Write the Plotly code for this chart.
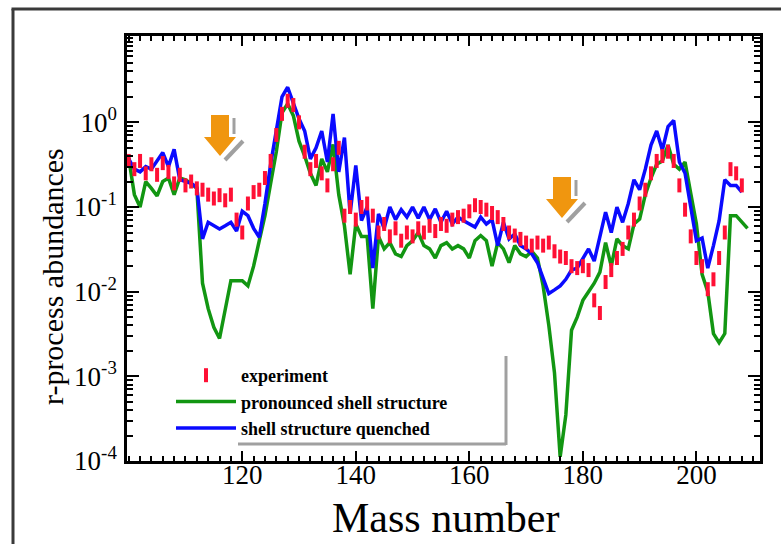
import plotly.graph_objects as go

# ---------------- data ----------------
mass_exp = list(range(100, 209))
exp_abund = [
    0.35, 0.28, 0.35, 0.25, 0.32, 0.24, 0.33, 0.26, 0.19, 0.24,   # 100-109
    0.18, 0.20, 0.166, 0.16, 0.14, 0.126, 0.138, 0.12, 0.14, 0.071,  # 110-119
    0.050, 0.11, 0.15, 0.16, 0.22, 0.35, 0.71, 1.26, 1.8, 1.6,    # 120-129
    1.0, 0.45, 0.28, 0.35, 0.25, 0.18, 0.32, 0.50, 0.079, 0.10,   # 130-139
    0.071, 0.10, 0.11, 0.079, 0.050, 0.063, 0.045, 0.056, 0.040, 0.050,  # 140-149
    0.045, 0.056, 0.050, 0.060, 0.052, 0.063, 0.060, 0.071, 0.076, 0.079,  # 150-159
    0.089, 0.105, 0.10, 0.093, 0.085, 0.076, 0.063, 0.050, 0.046, 0.042,  # 160-169
    0.038, 0.035, 0.038, 0.035, 0.038, 0.030, 0.026, 0.025, 0.020, 0.019,  # 170-179
    0.020, 0.018, 0.0079, 0.0056, 0.013, 0.018, 0.025, 0.032, 0.050, 0.071,  # 180-189
    0.11, 0.16, 0.25, 0.35, 0.40, 0.45, 0.35, 0.18, 0.093, 0.045,  # 190-199
    0.025, 0.020, 0.0107, 0.014, 0.025, 0.050, 0.28, 0.25, 0.18,   # 200-208
]

mass_pronounced = list(range(100, 210))
shell_pronounced = [
    0.38, 0.14, 0.10, 0.20, 0.166, 0.135, 0.20, 0.22, 0.14, 0.22,   # 100-109
    0.21, 0.19, 0.166, 0.0126, 0.0063, 0.0038, 0.0028, 0.0063, 0.0135, 0.0135,  # 110-119
    0.0135, 0.0117, 0.020, 0.040, 0.079, 0.19, 0.45, 1.3, 1.66, 1.2,  # 120-129
    0.6, 0.4, 0.25, 0.18, 0.37, 0.26, 0.55, 0.14, 0.06, 0.016,    # 130-139
    0.063, 0.045, 0.045, 0.0063, 0.045, 0.032, 0.038, 0.028, 0.026, 0.035,  # 140-149
    0.040, 0.050, 0.035, 0.032, 0.025, 0.035, 0.038, 0.032, 0.035, 0.032,  # 150-159
    0.025, 0.040, 0.046, 0.040, 0.020, 0.038, 0.032, 0.022, 0.035, 0.028,  # 160-169
    0.026, 0.030, 0.025, 0.0117, 0.004, 0.0011, 0.000112, 0.00035, 0.0035, 0.005,  # 170-179
    0.0079, 0.010, 0.0126, 0.017, 0.038, 0.020, 0.042, 0.035, 0.032, 0.063,  # 180-189
    0.072, 0.14, 0.22, 0.32, 0.35, 0.54, 0.32, 0.28, 0.34, 0.145,  # 190-199
    0.063, 0.016, 0.010, 0.0032, 0.0025, 0.0032, 0.079, 0.079, 0.066, 0.056,  # 200-209
]

mass_quenched = list(range(100, 209))
shell_quenched = [
    0.37, 0.28, 0.26, 0.30, 0.28, 0.35, 0.44, 0.30, 0.48, 0.21,   # 100-109
    0.20, 0.19, 0.17, 0.042, 0.066, 0.060, 0.055, 0.060, 0.066, 0.052,  # 110-119
    0.089, 0.079, 0.056, 0.044, 0.11, 0.32, 0.79, 2.0, 2.6, 1.66,  # 120-129
    1.1, 0.79, 0.37, 0.50, 0.79, 0.34, 1.26, 0.26, 0.66, 0.083,   # 130-139
    0.31, 0.069, 0.10, 0.019, 0.083, 0.056, 0.10, 0.071, 0.093, 0.076,  # 140-149
    0.10, 0.074, 0.10, 0.071, 0.095, 0.066, 0.089, 0.063, 0.076, 0.069,  # 150-159
    0.063, 0.058, 0.076, 0.063, 0.071, 0.035, 0.066, 0.042, 0.048, 0.035,  # 160-169
    0.032, 0.028, 0.022, 0.014, 0.0095, 0.0105, 0.0117, 0.014, 0.018, 0.019,  # 170-179
    0.025, 0.032, 0.023, 0.045, 0.087, 0.050, 0.10, 0.066, 0.11, 0.21,  # 180-189
    0.16, 0.28, 0.54, 0.79, 0.47, 0.89, 1.05, 0.34, 0.25, 0.10,   # 190-199
    0.040, 0.043, 0.019, 0.035, 0.069, 0.21, 0.18, 0.18, 0.15,    # 200-208
]

x_tick_vals = [120, 140, 160, 180, 200]
y_tick_vals = [1e-4, 1e-3, 1e-2, 1e-1, 1]
y_tick_text = ["10<sup>-4</sup>", "10<sup>-3</sup>", "10<sup>-2</sup>",
               "10<sup>-1</sup>", "10<sup>0</sup>"]

# ---------------- layout helpers ----------------
W, H = 782, 545
ML, MR, MT, MB = 127, 22, 36, 84
PW, PH = W - ML - MR, H - MT - MB


def px(x):
    return (x - ML) / PW


def py(y):
    return (H - MB - y) / PH


def path(points):
    s = "M" + " L".join(f"{px(a):.5f},{py(b):.5f}" for a, b in points) + " Z"
    return s


SERIF = "Liberation Serif, Times New Roman, serif"
ORANGE = "#f0960f"
SHADOW = "#a0a0a0"

fig = go.Figure()
fig.add_trace(go.Scatter(
    x=mass_pronounced, y=shell_pronounced, mode="lines",
    name="pronounced shell structure", legendrank=2,
    line=dict(color="#129612", width=3.5)))
fig.add_trace(go.Scatter(
    x=mass_quenched, y=shell_quenched, mode="lines",
    name="shell structure quenched", legendrank=3,
    line=dict(color="#0a0aff", width=3.5)))
fig.add_trace(go.Scatter(
    x=mass_exp, y=exp_abund, mode="markers",
    name="experiment", legendrank=1,
    marker=dict(symbol="line-ns", size=10, color="#ff1035",
                line=dict(color="#ff1035", width=4))))

shapes = []
# outer frame (only left and top edges fall inside the picture)
shapes.append(dict(type="line", xref="paper", yref="paper",
                   x0=px(13), y0=py(9), x1=px(13), y1=py(544),
                   line=dict(color="#3a3a3a", width=3)))
shapes.append(dict(type="line", xref="paper", yref="paper",
                   x0=px(11.5), y0=py(9), x1=px(781), y1=py(9),
                   line=dict(color="#3a3a3a", width=3)))
# arrows (with grey shadow)
for (cx, ty) in [(220, 115), (562, 177)]:
    shapes.append(dict(type="line", xref="paper", yref="paper",
                       x0=px(cx + 14), y0=py(ty + 3), x1=px(cx + 14), y1=py(ty + 19),
                       line=dict(color=SHADOW, width=3)))
    shapes.append(dict(type="line", xref="paper", yref="paper",
                       x0=px(cx + 23), y0=py(ty + 26), x1=px(cx + 5), y1=py(ty + 45),
                       line=dict(color=SHADOW, width=4)))
    shapes.append(dict(type="path", xref="paper", yref="paper",
                       path=path([(cx - 9, ty), (cx + 9, ty), (cx + 9, ty + 22),
                                  (cx + 16, ty + 22), (cx, ty + 41),
                                  (cx - 16, ty + 22), (cx - 9, ty + 22)]),
                       fillcolor=ORANGE, line=dict(width=0)))
# legend shadow
shapes.append(dict(type="line", xref="paper", yref="paper",
                   x0=px(506), y0=py(356), x1=px(506), y1=py(445),
                   line=dict(color=SHADOW, width=3)))
shapes.append(dict(type="line", xref="paper", yref="paper",
                   x0=px(238), y0=py(444), x1=px(506), y1=py(444),
                   line=dict(color=SHADOW, width=3)))

annotations = [
    dict(text="Mass number", xref="paper", yref="paper",
         x=px(445), y=py(518), xanchor="center", yanchor="middle",
         showarrow=False, font=dict(family=SERIF, size=42, color="black")),
    dict(text="r-process abundances", xref="paper", yref="paper",
         x=px(52), y=py(277), xanchor="center", yanchor="middle",
         showarrow=False, textangle=-90,
         font=dict(family=SERIF, size=30, color="black")),
]

axis_common = dict(
    showline=True, linecolor="black", linewidth=2.5, mirror="allticks",
    ticks="inside", tickcolor="black", showgrid=False, zeroline=False,
    tickfont=dict(family=SERIF, size=27, color="black"),
)

fig.update_layout(
    width=W, height=H,
    margin=dict(l=ML, r=MR, t=MT, b=MB),
    paper_bgcolor="white", plot_bgcolor="white",
    showlegend=True,
    legend=dict(x=px(171), y=py(357), xanchor="left", yanchor="top",
                bgcolor="rgba(0,0,0,0)", borderwidth=0,
                font=dict(family=SERIF, size=18, color="black", weight="bold"),
                itemwidth=60, tracegroupgap=0),
    xaxis=dict(range=[99.7, 211.2], tickvals=x_tick_vals, ticklen=10, tickwidth=2,
               minor=dict(ticks="inside", dtick=2, tick0=0, ticklen=5,
                          tickwidth=1.5, tickcolor="black", showgrid=False),
               ticklabelstandoff=-12,
               **axis_common),
    yaxis=dict(type="log", range=[-4, 1.02], tickvals=y_tick_vals,
               ticktext=y_tick_text, ticklen=12, tickwidth=2,
               minor=dict(ticks="inside", dtick="D1", ticklen=6,
                          tickwidth=1.5, tickcolor="black", showgrid=False),
               ticklabelstandoff=2,
               **axis_common),
    shapes=shapes,
    annotations=annotations,
)

fig.write_html("out.html")
